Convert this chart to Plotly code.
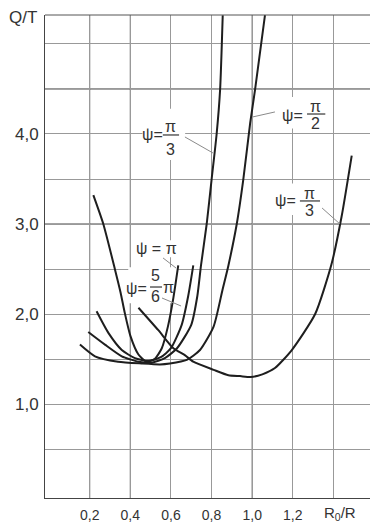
import plotly.graph_objects as go

# ---- data ----
psi_pi_x = [0.218, 0.267, 0.325, 0.352, 0.372, 0.400, 0.440, 0.480, 0.520, 0.555, 0.585, 0.612, 0.636]
psi_pi_y = [3.32, 3.00, 2.49, 2.24, 2.02, 1.76, 1.55, 1.47, 1.50, 1.62, 1.86, 2.18, 2.54]

psi_5pi6_x = [0.234, 0.292, 0.358, 0.423, 0.490, 0.550, 0.600, 0.653, 0.685, 0.710]
psi_5pi6_y = [2.03, 1.79, 1.60, 1.51, 1.48, 1.52, 1.62, 1.88, 2.20, 2.54]

psi_pi3a_x = [0.193, 0.275, 0.358, 0.440, 0.505, 0.570, 0.630, 0.700, 0.730, 0.748, 0.776, 0.800, 0.825, 0.842, 0.855]
psi_pi3a_y = [1.80, 1.66, 1.53, 1.47, 1.46, 1.51, 1.62, 1.88, 2.20, 2.54, 3.00, 3.49, 4.00, 4.49, 5.32]

psi_pi2_x = [0.152, 0.226, 0.340, 0.456, 0.546, 0.595, 0.678, 0.743, 0.810, 0.854, 0.883, 0.924, 0.956, 0.990, 1.014, 1.063]
psi_pi2_y = [1.66, 1.53, 1.47, 1.45, 1.44, 1.45, 1.49, 1.60, 1.86, 2.27, 2.54, 3.00, 3.49, 4.12, 4.49, 5.32]

psi_pi3b_x = [0.440, 0.538, 0.612, 0.670, 0.710, 0.810, 0.883, 0.940, 0.993, 1.050, 1.112, 1.195, 1.310, 1.390, 1.440, 1.490]
psi_pi3b_y = [2.07, 1.82, 1.62, 1.54, 1.47, 1.38, 1.32, 1.31, 1.30, 1.33, 1.40, 1.60, 2.00, 2.55, 3.08, 3.76]

x_ticks = [0.2, 0.4, 0.6, 0.8, 1.0, 1.2]
x_tick_labels = ["0,2", "0,4", "0,6", "0,8", "1,0", "1,2"]
x_minor_grid = [1.4]
y_ticks = [1.0, 2.0, 3.0, 4.0]
y_tick_labels = ["1,0", "2,0", "3,0", "4,0"]
y_minor_grid = [0.5, 1.5, 2.5, 3.5, 4.5, 5.0]

# grid lines that are printed darker in the original
dark_x_grid = [0.2, 0.4, 1.0]
dark_y_grid = [3.0, 4.5]

FONT = "Liberation Sans, Arial, sans-serif"
INK = "#1e1e1e"
TXT = "#333333"
GRID = "#999999"
GRID_DARK = "#444444"

fig = go.Figure()
for xs, ys in [(psi_pi_x, psi_pi_y), (psi_5pi6_x, psi_5pi6_y), (psi_pi3a_x, psi_pi3a_y),
               (psi_pi2_x, psi_pi2_y), (psi_pi3b_x, psi_pi3b_y)]:
    fig.add_trace(go.Scatter(x=xs, y=ys, mode="lines",
                             line=dict(color=INK, width=2, shape="spline", smoothing=0.6),
                             showlegend=False, hoverinfo="skip"))

shapes = []
annotations = []

for gx in dark_x_grid:
    shapes.append(dict(type="line", xref="x", yref="paper", x0=gx, x1=gx, y0=0, y1=1,
                       line=dict(color=GRID_DARK, width=1), layer="between"))
for gy in dark_y_grid:
    shapes.append(dict(type="line", xref="paper", yref="y", x0=0, x1=1, y0=gy, y1=gy,
                       line=dict(color=GRID_DARK, width=1), layer="between"))

def txt(x, y, s, size=16, xanchor="center"):
    annotations.append(dict(x=x, y=y, xref="x", yref="y", text=s, showarrow=False,
                            xanchor=xanchor, yanchor="middle",
                            font=dict(family=FONT, size=size, color=TXT)))

def box(x0, y0, x1, y1):
    shapes.append(dict(type="rect", xref="x", yref="y", x0=x0, y0=y0, x1=x1, y1=y1,
                       fillcolor="white", line=dict(width=0), layer="between"))

def seg(x0, y0, x1, y1, color="#8a8a8a", width=1):
    shapes.append(dict(type="line", xref="x", yref="y", x0=x0, y0=y0, x1=x1, y1=y1,
                       line=dict(color=color, width=width), layer="above"))

# label: psi = pi/3 (left)
box(0.46, 3.71, 0.67, 4.28)
txt(0.507, 3.99, "ψ=")
txt(0.600, 4.08, "π")
seg(0.560, 3.989, 0.640, 3.989, color=TXT, width=1.2)
txt(0.600, 3.83, "3")
seg(0.669, 3.967, 0.807, 3.789)

# label: psi = pi/2
box(1.15, 4.06, 1.39, 4.41)
txt(1.196, 4.21, "ψ=")
txt(1.314, 4.31, "π")
seg(1.270, 4.222, 1.360, 4.222, color=TXT, width=1.2)
txt(1.314, 4.12, "2")
seg(1.112, 4.245, 1.004, 4.190)

# label: psi = pi/3 (right)
box(1.13, 3.10, 1.36, 3.45)
txt(1.162, 3.256, "ψ=")
txt(1.280, 3.335, "π")
seg(1.235, 3.256, 1.334, 3.256, color=TXT, width=1.2)
txt(1.280, 3.15, "3")
seg(1.344, 3.178, 1.432, 3.000)

# label: psi = pi
box(0.43, 2.63, 0.64, 2.82)
txt(0.529, 2.723, "ψ = π")
seg(0.561, 2.623, 0.625, 2.511)

# label: psi = 5/6 pi
box(0.39, 2.12, 0.63, 2.52)
txt(0.428, 2.289, "ψ=")
txt(0.526, 2.43, "5")
seg(0.497, 2.300, 0.556, 2.300, color=TXT, width=1.2)
txt(0.526, 2.19, "6")
txt(0.586, 2.30, "π")
seg(0.556, 2.178, 0.650, 2.089)

# top frame line
shapes.append(dict(type="line", xref="paper", yref="paper", x0=0, x1=1, y0=1, y1=1,
                   line=dict(color="#555555", width=1)))

# axis titles
annotations.append(dict(x=-0.068, y=0.994, xref="paper", yref="paper", text="Q/T",
                        showarrow=False, xanchor="center", yanchor="middle",
                        font=dict(family=FONT, size=17, color=TXT)))
annotations.append(dict(x=1.432, y=-0.033, xref="x", yref="paper", text="R<sub>0</sub>/R",
                        showarrow=False, xanchor="center", yanchor="middle",
                        font=dict(family=FONT, size=15, color=TXT)))

fig.update_layout(
    width=370, height=522,
    margin=dict(l=45, r=0, t=15, b=24, autoexpand=False),
    paper_bgcolor="white", plot_bgcolor="white",
    shapes=shapes, annotations=annotations,
    font=dict(family=FONT, color=TXT),
)
fig.update_xaxes(range=[-0.02, 1.58], tickvals=x_ticks, ticktext=x_tick_labels,
                 showgrid=True, gridcolor=GRID, gridwidth=1, zeroline=False, automargin=False,
                 minor=dict(tickvals=x_minor_grid, showgrid=True, gridcolor=GRID, gridwidth=1, ticks=""),
                 showline=True, linecolor="#444444", linewidth=1, ticks="",
                 tickfont=dict(family=FONT, size=14, color=TXT), ticklabelstandoff=4)
fig.update_yaxes(range=[-0.044, 5.322], tickvals=y_ticks, ticktext=y_tick_labels,
                 showgrid=True, gridcolor=GRID, gridwidth=1, zeroline=False, automargin=False,
                 minor=dict(tickvals=y_minor_grid, showgrid=True, gridcolor=GRID, gridwidth=1, ticks=""),
                 showline=True, linecolor="#444444", linewidth=1, ticks="",
                 tickfont=dict(family=FONT, size=17, color=TXT), ticklabelstandoff=2)

fig.write_html("out.html", config={"displayModeBar": False},
               post_script="document.body.style.margin='0';document.body.style.overflow='hidden';")
